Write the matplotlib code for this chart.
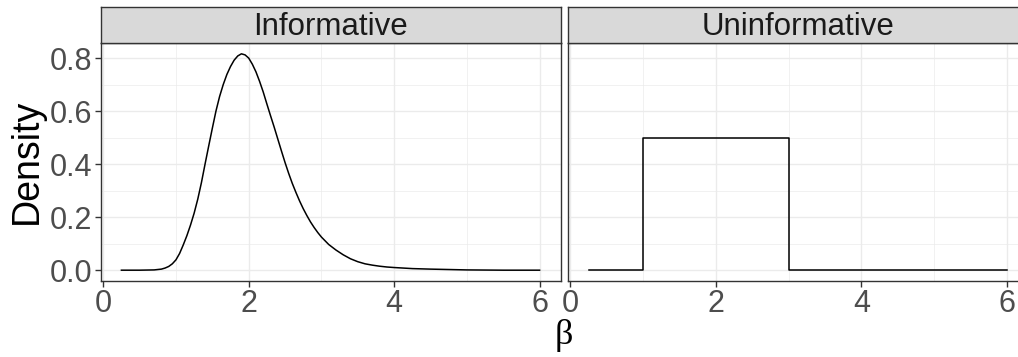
import numpy as np
import matplotlib.pyplot as plt
from matplotlib.ticker import MultipleLocator

beta_inf = [0.25, 0.5, 0.7, 0.8, 0.85, 0.9, 0.95, 1.0, 1.05, 1.1, 1.15, 1.2,
            1.25, 1.3, 1.35, 1.4, 1.45, 1.5, 1.55, 1.6, 1.65, 1.7, 1.75, 1.8,
            1.85, 1.9, 1.95, 2.0, 2.05, 2.1, 2.15, 2.2, 2.25, 2.3, 2.35, 2.4,
            2.45, 2.5, 2.55, 2.6, 2.65, 2.7, 2.75, 2.8, 2.85, 2.9, 2.95, 3.0,
            3.1, 3.2, 3.3, 3.4, 3.5, 3.6, 3.7, 3.8, 3.9, 4.0, 4.25, 4.5, 5.0,
            5.5, 6.0]
dens_inf = [0.0, 0.0, 0.001, 0.004, 0.008, 0.014, 0.024, 0.039, 0.063, 0.095,
            0.13, 0.17, 0.215, 0.268, 0.33, 0.40, 0.468, 0.535, 0.60, 0.655,
            0.70, 0.738, 0.768, 0.792, 0.808, 0.816, 0.812, 0.80, 0.777,
            0.748, 0.712, 0.672, 0.627, 0.583, 0.54, 0.495, 0.45, 0.406,
            0.365, 0.327, 0.293, 0.261, 0.232, 0.206, 0.182, 0.161, 0.142,
            0.125, 0.097, 0.076, 0.058, 0.043, 0.032, 0.024, 0.019, 0.015,
            0.012, 0.010, 0.006, 0.004, 0.001, 0.0, 0.0]

beta_uni = [0.25, 1.0, 1.0, 3.0, 3.0, 6.0]
dens_uni = [0.0, 0.0, 0.5, 0.5, 0.0, 0.0]

panels = ['Informative', 'Uninformative']
series = [(beta_inf, dens_inf), (beta_uni, dens_uni)]

W, H = 1018, 357
fig = plt.figure(figsize=(W / 100, H / 100), dpi=100)
plt.rcParams['font.family'] = ['Liberation Sans', 'DejaVu Sans']

grey20 = '#333333'
lefts = [100.5, 567.7]
pw = 460
ptop, pbot = 43, 281
stop = 7

for i, (name, (xs, ys)) in enumerate(zip(panels, series)):
    ax = fig.add_axes([lefts[i] / W, 1 - pbot / H, pw / W, (pbot - ptop) / H])
    ax.plot(xs, ys, color='black', lw=1.1, solid_joinstyle='round')
    ax.set_xlim(-0.0375, 6.2875)
    ax.set_ylim(-0.0408, 0.8568)
    ax.xaxis.set_major_locator(MultipleLocator(2))
    ax.xaxis.set_minor_locator(MultipleLocator(1))
    ax.yaxis.set_major_locator(MultipleLocator(0.2))
    ax.yaxis.set_minor_locator(MultipleLocator(0.1))
    ax.grid(which='major', color='#EBEBEB', lw=1.0)
    ax.grid(which='minor', color='#EBEBEB', lw=0.5)
    ax.set_axisbelow(True)
    for s in ax.spines.values():
        s.set_color(grey20)
        s.set_linewidth(1.0)
    ax.tick_params(which='major', length=4, width=1.0, color=grey20,
                   labelsize=22, labelcolor='#4D4D4D', pad=2)
    ax.tick_params(which='minor', length=0)
    ax.set_xticks([0, 2, 4, 6], ['0', '2', '4', '6'])
    if i == 0:
        ax.yaxis.set_major_formatter(lambda v, p: f'{v:.1f}')
    else:
        ax.tick_params(axis='y', which='major', length=0, labelleft=False)

    # facet strip
    st = fig.add_axes([lefts[i] / W, 1 - ptop / H, pw / W, (ptop - stop) / H])
    st.set_facecolor('#D9D9D9')
    st.set_xticks([])
    st.set_yticks([])
    for s in st.spines.values():
        s.set_color(grey20)
        s.set_linewidth(1.0)
    st.text(0.5, 0.45, name, transform=st.transAxes, ha='center', va='center',
            fontsize=22.5, color='#1A1A1A')

fig.text(27 / W, 1 - 161 / H, 'Density', rotation=90, ha='center',
         va='center', fontsize=27)
fig.text(564 / W, 1 - 335 / H, 'β', ha='center', va='center', fontsize=26,
         family=['Liberation Serif', 'DejaVu Serif'])

fig.savefig('out.png', dpi=100)
